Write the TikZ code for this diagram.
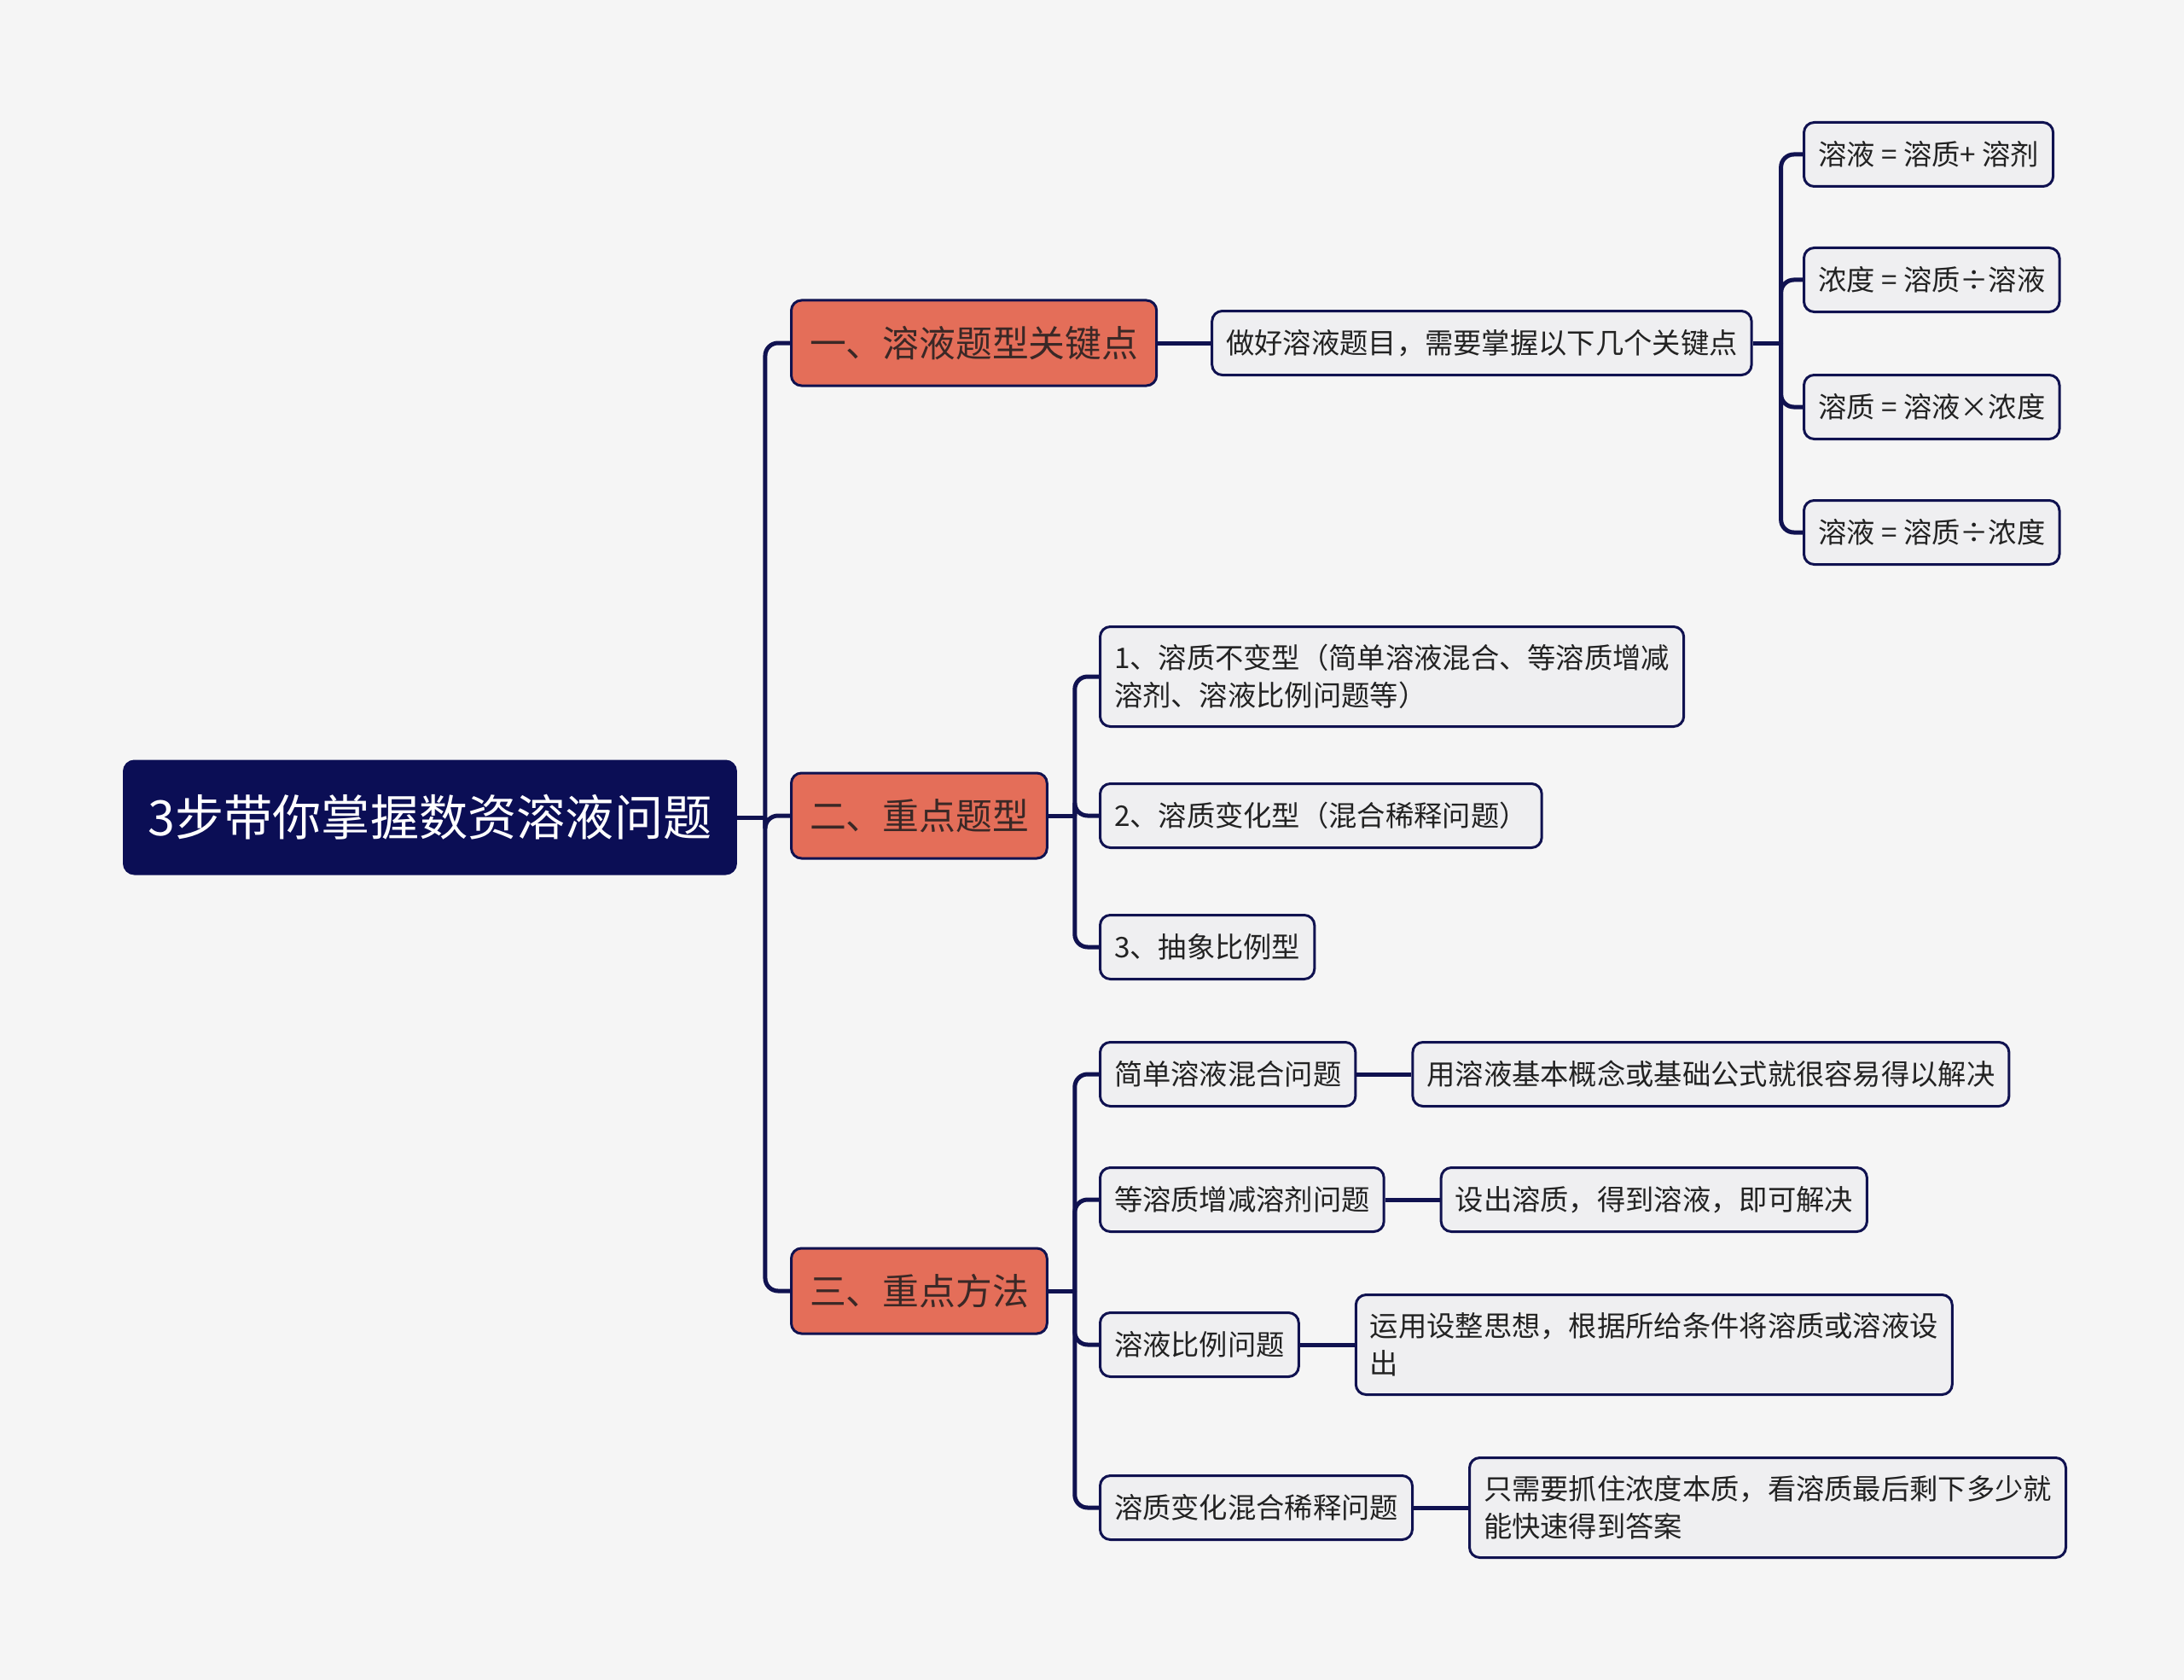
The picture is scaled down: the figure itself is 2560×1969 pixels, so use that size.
\documentclass[tikz,border=0pt]{standalone}
\usepackage{fontspec}
\setmainfont{Noto Sans CJK SC}
\usepackage{xcolor}
\definecolor{stnavy}{RGB}{11,14,85}
\definecolor{stline}{RGB}{16,18,80}
\definecolor{storange}{RGB}{228,110,89}
\definecolor{sttext}{RGB}{58,40,38}
\definecolor{stleaf}{RGB}{239,239,241}
\definecolor{stleaftext}{RGB}{34,34,34}
\definecolor{stbg}{RGB}{245,245,245}
\usetikzlibrary{positioning}

\tikzset{
  rootbox/.style={draw=stnavy, fill=stnavy, text=white, rounded corners=6pt, line width=1.5pt,
    anchor=west, inner xsep=14pt, inner ysep=0pt, minimum height=66pt,
    font=\fontsize{28.6pt}{34pt}\selectfont},
  topicbox/.style={draw=stline, fill=storange, text=sttext, rounded corners=6pt, line width=1.5pt,
    anchor=west, inner xsep=10.75pt, inner ysep=0pt, minimum height=50pt,
    font=\fontsize{21.4pt}{26pt}\selectfont},
  leafbox/.style={draw=stline, fill=stleaf, text=stleaftext, rounded corners=6pt, line width=1.5pt,
    anchor=west, align=left, inner xsep=8.25pt, inner ysep=0pt, minimum height=37.5pt,
    font=\fontsize{16.65pt}{22pt}\selectfont},
  tallbox/.style={leafbox, minimum height=58.5pt},
  link/.style={draw=stline, line width=2.5pt},
  fork/.style={link, rounded corners=7.5pt},
}

\begin{document}
\begin{tikzpicture}[x=0.5pt, y=-0.5pt]
  % Background
  \fill[stbg] (0,0) rectangle (2560,1969);
  \useasboundingbox (0,0) rectangle (2560,1969);

  % Root
  \node[rootbox] (root) at (144,958) {3步带你掌握数资溶液问题};

  % Main topics
  \node[topicbox] (keys) at (926,402) {一、溶液题型关键点};
  \node[topicbox] (types) at (926,956) {二、重点题型};
  \node[topicbox] (methods) at (926,1513) {三、重点方法};

  \coordinate (trunk) at ([xshift=16.5pt]root.east);
  \draw[link] (root.east) -- (trunk);
  \foreach \t in {keys,types,methods}
    \draw[fork] (trunk) |- (\t.west);

  % Topic 1: key points
  \node[leafbox, right=31pt of keys] (keynote) {做好溶液题目，需要掌握以下几个关键点};
  \draw[link] (keys) -- (keynote);

  \node[leafbox] (f1) at (2113,181) {溶液 = 溶质+ 溶剂};
  \node[leafbox] (f2) at (2113,328) {浓度 = 溶质÷溶液};
  \node[leafbox] (f3) at (2113,477) {溶质 = 溶液×浓度};
  \node[leafbox] (f4) at (2113,624) {溶液 = 溶质÷浓度};

  \coordinate (keyfork) at ([xshift=16.5pt]keynote.east);
  \draw[link] (keynote.east) -- (keyfork);
  \foreach \f in {f1,f2,f3,f4}
    \draw[fork] (keyfork) |- (\f.west);

  % Topic 2: question types
  \node[tallbox] (t1) at (1288,793) {1、溶质不变型（简单溶液混合、等溶质增减\\溶剂、溶液比例问题等）};
  \node[leafbox] (t2) at (1288,956) {2、溶质变化型（混合稀释问题）};
  \node[leafbox] (t3) at (1288,1110) {3、抽象比例型};

  \coordinate (typefork) at ([xshift=15.5pt]types.east);
  \draw[link] (types.east) -- (typefork);
  \foreach \t in {t1,t2,t3}
    \draw[fork] (typefork) |- (\t.west);

  % Topic 3: methods
  \node[leafbox] (m1) at (1288,1259) {简单溶液混合问题};
  \node[leafbox] (m2) at (1288,1406) {等溶质增减溶剂问题};
  \node[leafbox] (m3) at (1288,1576) {溶液比例问题};
  \node[leafbox] (m4) at (1288,1767) {溶质变化混合稀释问题};

  \coordinate (methodfork) at ([xshift=15.5pt]methods.east);
  \draw[link] (methods.east) -- (methodfork);
  \foreach \m in {m1,m2,m3,m4}
    \draw[fork] (methodfork) |- (\m.west);

  \node[leafbox, right=32pt of m1] (a1) {用溶液基本概念或基础公式就很容易得以解决};
  \node[leafbox, right=32pt of m2] (a2) {设出溶质，得到溶液，即可解决};
  \node[tallbox, right=32pt of m3] (a3) {运用设整思想，根据所给条件将溶质或溶液设\\出};
  \node[tallbox, right=32pt of m4] (a4) {只需要抓住浓度本质，看溶质最后剩下多少就\\能快速得到答案};

  \foreach \m/\a in {m1/a1,m2/a2,m3/a3,m4/a4}
    \draw[link] (\m) -- (\a);
\end{tikzpicture}
\end{document}
